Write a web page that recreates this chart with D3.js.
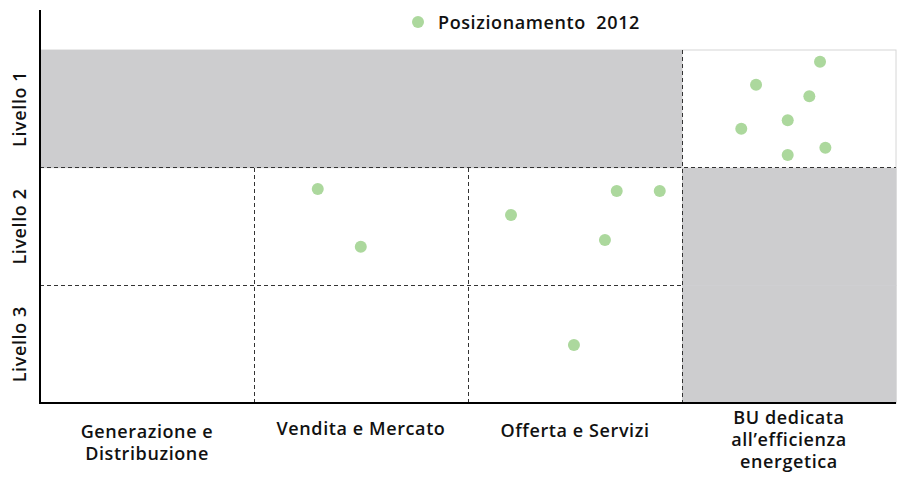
<!DOCTYPE html>
<html>
<head>
<meta charset="utf-8">
<script src="https://cdn.jsdelivr.net/npm/d3@7"></script>
<style>
  html, body { margin: 0; padding: 0; background: #ffffff; }
  svg { display: block; }
  text { font-family: "Open Sans", Lato, sans-serif; font-weight: 600; fill: #111; letter-spacing: 0.6px; }
</style>
</head>
<body>
<svg id="chart" width="898" height="478"></svg>
<script>
// ---- data ----
const categories = ["Generazione e Distribuzione", "Vendita e Mercato", "Offerta e Servizi", "BU dedicata all’efficienza energetica"];
const categoryLines = [["Generazione e", "Distribuzione"], ["Vendita e Mercato"], ["Offerta e Servizi"], ["BU dedicata", "all’efficienza", "energetica"]];
const levels = ["Livello 1", "Livello 2", "Livello 3"];
const seriesName = "Posizionamento  2012";
// positions in column units (0-4) and level units (0-3)
const pointX = [3.645, 3.346, 3.595, 3.494, 3.277, 3.494, 3.670, 2.695, 2.896, 1.298, 1.499, 2.201, 2.640, 2.495];
const pointY = [0.099, 0.295, 0.393, 0.597, 0.669, 0.892, 0.830, 1.198, 1.198, 1.181, 1.672, 1.402, 1.615, 2.507];
// shaded (not applicable) cells: [column, level]
const shadedCells = [[0,0],[1,0],[2,0],[3,1],[3,2]];

// ---- layout ----
const svg = d3.select("#chart");
const x = d3.scaleLinear().domain([0, 4]).range([40, 896]);
const y = d3.scaleLinear().domain([0, 3]).range([50, 403]);
const xBand = d3.scaleBand().domain(categories).range([40, 896]);
const yBand = d3.scaleBand().domain(levels).range([50, 403]);
const dotColor = "#acd89d";
const grayFill = "#cdcdcf";
const fontSize = "18px";

// background cells
svg.append("rect")
  .attr("x", x(0)).attr("y", y(0))
  .attr("width", x(4) - x(0)).attr("height", y(3) - y(0))
  .attr("fill", "#fff").attr("stroke", "#d6d6d6").attr("stroke-width", 1);

svg.selectAll("rect.shade").data(shadedCells).join("rect")
  .attr("class", "shade")
  .attr("x", d => x(d[0])).attr("y", d => y(d[1]))
  .attr("width", d => x(d[0] + 1) - x(d[0]) + 0.5)
  .attr("height", d => y(d[1] + 1) - y(d[1]) + 0.5)
  .attr("fill", grayFill);

// dashed grid lines
const dash = "4,3";
const gridLines = [
  {x1: 0, y1: 1, x2: 4, y2: 1},
  {x1: 0, y1: 2, x2: 3, y2: 2},
  {x1: 1, y1: 1, x2: 1, y2: 3},
  {x1: 2, y1: 1, x2: 2, y2: 3},
  {x1: 3, y1: 0, x2: 3, y2: 3}
];
svg.selectAll("line.grid").data(gridLines).join("line")
  .attr("class", "grid")
  .attr("x1", d => x(d.x1)).attr("y1", d => y(d.y1))
  .attr("x2", d => x(d.x2)).attr("y2", d => y(d.y2))
  .attr("stroke", "#333").attr("stroke-width", 1)
  .attr("stroke-dasharray", dash)
  .attr("shape-rendering", "crispEdges");

// axes
svg.append("line")
  .attr("x1", x(0)).attr("y1", 10).attr("x2", x(0)).attr("y2", y(3) + 1)
  .attr("stroke", "#000").attr("stroke-width", 2);
svg.append("line")
  .attr("x1", x(0) - 1).attr("y1", y(3)).attr("x2", x(4)).attr("y2", y(3))
  .attr("stroke", "#000").attr("stroke-width", 2);

// points
svg.selectAll("circle.pt").data(pointX.map((v, i) => [v, pointY[i]])).join("circle")
  .attr("class", "pt")
  .attr("cx", d => x(d[0])).attr("cy", d => y(d[1]))
  .attr("r", 6).attr("fill", dotColor);

// y labels
svg.selectAll("text.ylab").data(levels).join("text")
  .attr("class", "ylab")
  .attr("transform", d => `translate(26,${yBand(d) + yBand.bandwidth() / 2}) rotate(-90)`)
  .attr("text-anchor", "middle")
  .style("font-size", fontSize)
  .text(d => d);

// x labels
const firstBaseline = [438, 435, 437, 424];
const xl = svg.selectAll("text.xlab").data(categories).join("text")
  .attr("class", "xlab")
  .attr("text-anchor", "middle")
  .style("font-size", fontSize)
  .attr("x", d => xBand(d) + xBand.bandwidth() / 2)
  .attr("y", (d, i) => firstBaseline[i]);
xl.each(function(d, i) {
  d3.select(this).selectAll("tspan").data(categoryLines[i]).join("tspan")
    .attr("x", xBand(d) + xBand.bandwidth() / 2)
    .attr("dy", (t, j) => j === 0 ? 0 : 22)
    .text(t => t);
});

// legend
svg.append("circle").attr("cx", 418).attr("cy", 22).attr("r", 6).attr("fill", dotColor);
svg.append("text").attr("x", 438).attr("y", 29)
  .style("font-size", fontSize).style("white-space", "pre")
  .text(seriesName);
</script>
</body>
</html>
